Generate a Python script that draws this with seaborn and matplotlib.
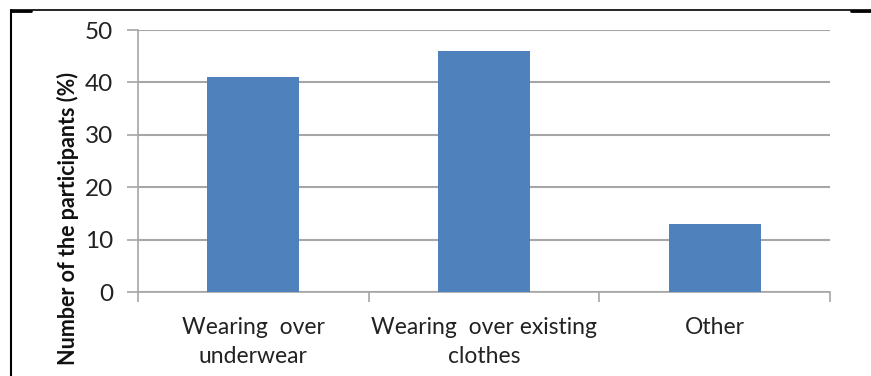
import matplotlib
matplotlib.use("Agg")
import matplotlib.pyplot as plt
from matplotlib.lines import Line2D
from matplotlib.ticker import FixedLocator
import seaborn as sns
import pandas as pd

categories = ["Wearing  over\nunderwear", "Wearing  over existing\nclothes", "Other"]
percentages = [41, 46, 13]
y_ticks = [0, 10, 20, 30, 40, 50]

sns.set_style("white")
plt.rcParams["font.family"] = ["Lato", "DejaVu Sans"]

df = pd.DataFrame({"category": categories, "pct": percentages})

fig = plt.figure(figsize=(8.71, 3.76), dpi=100)
ax = fig.add_axes([0.1584, 0.2234, 0.7945, 0.6966])

sns.barplot(data=df, x="category", y="pct", color="#4F81BD", width=0.4,
            saturation=1, linewidth=0, ax=ax, zorder=3)

grid_color = "#A6A6A6"
ax.set_ylim(0, 50)
ax.set_xlim(-0.5, 2.5)
ax.set_yticks(y_ticks)
ax.yaxis.grid(True, color=grid_color, linewidth=1.5, zorder=0)
ax.set_axisbelow(True)

for side in ("top", "right"):
    ax.spines[side].set_visible(False)
for side in ("left", "bottom"):
    ax.spines[side].set_color(grid_color)
    ax.spines[side].set_linewidth(1.2)

ax.tick_params(axis="y", direction="out", length=8, width=1.2, color=grid_color,
               labelsize=17.5, labelcolor="#222222", pad=10, left=True)
ax.tick_params(axis="x", which="major", length=0, labelsize=16.5,
               labelcolor="#222222", pad=18)
ax.xaxis.set_minor_locator(FixedLocator([-0.5, 0.5, 1.5, 2.5]))
ax.tick_params(axis="x", which="minor", direction="out", length=7, width=1.2,
               color=grid_color, bottom=True)
for lbl in ax.get_xticklabels():
    lbl.set_linespacing(1.45)

ax.set_xlabel("")
ax.set_ylabel("Number of the participants (%)", fontsize=15.5, fontweight="bold",
              color="#111111")
ax.yaxis.set_label_coords(-0.085, 0.28)

# frame lines around the figure
W, H = 871, 376
def fig_line(x0, y0, x1, y1, lw):
    fig.add_artist(Line2D([x0 / W, x1 / W], [1 - y0 / H, 1 - y1 / H],
                          transform=fig.transFigure, color="black", linewidth=lw))

fig_line(11, 9.5, 871, 9.5, 1.2)
fig_line(11, 9.5, 11, 376, 1.5)
fig_line(11, 11, 31, 11, 2.0)
fig_line(851, 10.5, 871, 10.5, 2.0)

fig.savefig("out.png", dpi=100)
